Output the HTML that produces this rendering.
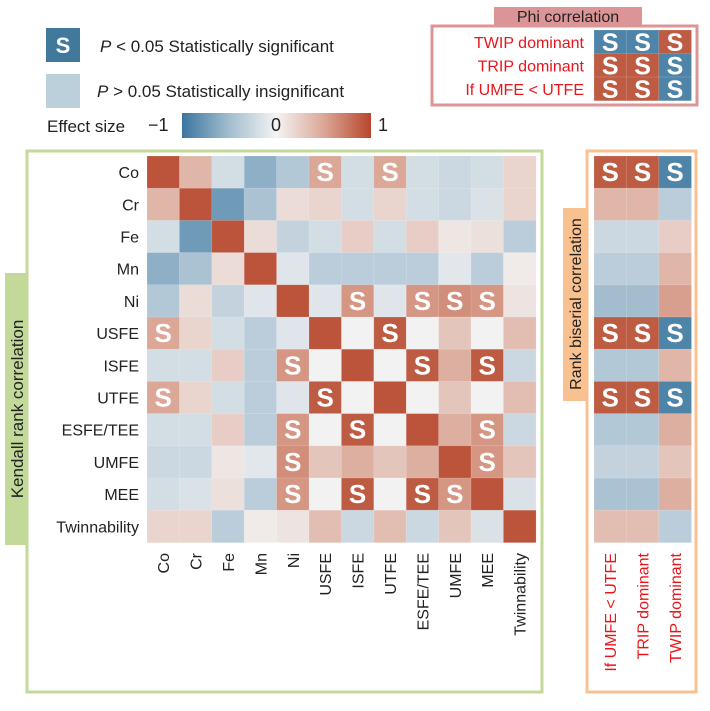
<!DOCTYPE html>
<html><head><meta charset="utf-8">
<style>
html,body{margin:0;padding:0;background:#fff;}
body{width:710px;height:706px;overflow:hidden;font-family:"Liberation Sans",Arial,sans-serif;}
svg text{font-family:"Liberation Sans",Arial,sans-serif;}
</style></head>
<body>
<svg id="chart" width="710" height="706" xmlns="http://www.w3.org/2000/svg">
<defs>
<linearGradient id="cbar" x1="0" x2="1" y1="0" y2="0">
<stop offset="0" stop-color="#3a76a0"/><stop offset="0.25" stop-color="#a3bdcf"/>
<stop offset="0.5" stop-color="#f4f4f4"/><stop offset="0.75" stop-color="#dba797"/>
<stop offset="1" stop-color="#b8472c"/></linearGradient>
</defs>
<g>
<rect x="46" y="28" width="34" height="34" fill="#41799d"/>
<text x="63" y="53" text-anchor="middle" font-size="22" font-weight="bold" fill="#fff">S</text>
<text x="100" y="52" font-size="17" fill="#222"><tspan font-style="italic">P</tspan> &lt; 0.05 Statistically significant</text>
<rect x="46" y="74" width="34" height="34" fill="#bcd0dc"/>
<text x="97" y="97" font-size="17" fill="#222"><tspan font-style="italic">P</tspan> &gt; 0.05 Statistically insignificant</text>
<text x="47" y="132" font-size="17" fill="#222">Effect size</text>
<text x="148" y="131" font-size="18" fill="#222">−1</text>
<rect x="182" y="113" width="189" height="25" fill="url(#cbar)"/>
<text x="276" y="131" font-size="18" text-anchor="middle" fill="#222">0</text>
<text x="378" y="131" font-size="18" fill="#222">1</text>
</g>
<rect x="27" y="151" width="515" height="541" fill="none" stroke="#c3d99a" stroke-width="3"/>
<rect x="5" y="273" width="23" height="272" fill="#c3d99a"/>
<text transform="translate(23,409) rotate(-90)" text-anchor="middle" font-size="17" fill="#222">Kendall rank correlation</text>
<rect x="587" y="151" width="109" height="541" fill="none" stroke="#f8c18f" stroke-width="3"/>
<rect x="563" y="208" width="24" height="193" fill="#f8c18f"/>
<text transform="translate(581,304) rotate(-90)" text-anchor="middle" font-size="16" fill="#222">Rank biserial correlation</text>
<rect x="432" y="26" width="265" height="79" fill="none" stroke="#dc9597" stroke-width="3"/>
<rect x="494" y="7" width="148" height="19" fill="#dc9597"/>
<text x="568" y="22" text-anchor="middle" font-size="16" fill="#222">Phi correlation</text>
<g id="cells"></g>
</svg>
<script>
const labels = ["Co","Cr","Fe","Mn","Ni","USFE","ISFE","UTFE","ESFE/TEE","UMFE","MEE","Twinnability"];
const kendall = [
[1,.4,-.2,-.6,-.4,.5,-.2,.5,-.2,-.25,-.2,.2],
[.4,1,-.75,-.45,.15,.2,-.2,.2,-.2,-.25,-.15,.2],
[-.2,-.75,1,.15,-.3,-.2,.25,-.2,.25,.08,.12,-.35],
[-.6,-.45,.15,1,-.12,-.35,-.35,-.35,-.35,-.1,-.35,.05],
[-.4,.15,-.3,-.12,1,-.12,.6,-.12,.6,.65,.6,.1],
[.5,.2,-.2,-.35,-.12,1,0,.95,0,.3,0,.35],
[-.2,-.2,.25,-.35,.6,0,1,0,.95,.45,.95,-.25],
[.5,.2,-.2,-.35,-.12,.95,0,1,0,.3,0,.35],
[-.2,-.2,.25,-.35,.6,0,.95,0,1,.45,.6,-.25],
[-.25,-.25,.08,-.1,.65,.3,.45,.3,.45,1,.6,.3],
[-.2,-.15,.12,-.35,.6,0,.95,0,.95,.6,1,-.15],
[.2,.2,-.35,.05,.1,.35,-.25,.35,-.25,.3,-.15,1]];
const kendallSig = [
[0,0,0,0,0,1,0,1,0,0,0,0],[0,0,0,0,0,0,0,0,0,0,0,0],[0,0,0,0,0,0,0,0,0,0,0,0],[0,0,0,0,0,0,0,0,0,0,0,0],
[0,0,0,0,0,0,1,0,1,1,1,0],[1,0,0,0,0,0,0,1,0,0,0,0],[0,0,0,0,1,0,0,0,1,0,1,0],[1,0,0,0,0,1,0,0,0,0,0,0],
[0,0,0,0,1,0,1,0,0,0,1,0],[0,0,0,0,1,0,0,0,0,0,1,0],[0,0,0,0,1,0,1,0,1,1,0,0],[0,0,0,0,0,0,0,0,0,0,0,0]];
const outcomeLabels = ["If UMFE < UTFE","TRIP dominant","TWIP dominant"];
const biserial = [
[.95,.95,-.9],[.4,.4,-.35],[-.25,-.25,.25],[-.35,-.35,.4],[-.5,-.5,.55],[.95,.95,-.9],
[-.4,-.4,.4],[.95,.95,-.9],[-.4,-.4,.45],[-.3,-.3,.3],[-.45,-.45,.45],[.35,.35,-.35]];
const biserialSig = [[1,1,1],[0,0,0],[0,0,0],[0,0,0],[0,0,0],[1,1,1],[0,0,0],[1,1,1],[0,0,0],[0,0,0],[0,0,0],[0,0,0]];
const phiRows = ["TWIP dominant","TRIP dominant","If UMFE < UTFE"];
const phi = [[-.9,-.9,.95],[.95,.95,-.9],[.95,.95,-.9]];
const phiSig = [[1,1,1],[1,1,1],[1,1,1]];

const stops=[[-1,[58,118,160]],[-.5,[163,189,207]],[0,[242,242,242]],[.5,[219,167,151]],[1,[187,84,58]]];
function color(v){
  for(let i=0;i<stops.length-1;i++){const [a,ca]=stops[i],[b,cb]=stops[i+1];
    if(v<=b){const t=(v-a)/(b-a);return 'rgb('+ca.map((c,k)=>Math.round(c+(cb[k]-c)*t)).join(',')+')';}}
  return 'rgb(187,84,58)';
}
const NS='http://www.w3.org/2000/svg';
const g=document.getElementById('cells');
function mk(tag,attrs){const e=document.createElementNS(NS,tag);for(const k in attrs)e.setAttribute(k,attrs[k]);g.appendChild(e);return e;}
function drawGrid(vals,sig,x0,y0,cw,ch,name,fs,dy){
  vals.forEach((row,i)=>row.forEach((v,j)=>{
    const r=mk('rect',{x:x0+j*cw,y:y0+i*ch,width:cw+0.3,height:ch+0.3,fill:color(v),stroke:'rgba(255,255,255,0.25)','stroke-width':0.6});
    
    
    if(sig[i][j]){const t=mk('text',{x:x0+(j+.5)*cw,y:y0+(i+.5)*ch+dy,'text-anchor':'middle','font-size':fs,'font-weight':'bold',fill:'#fff'});t.textContent='S';
      
      }
  }));
}
const kx=147,ky=156,kw=32.4,kh=32.2;
drawGrid(kendall,kendallSig,kx,ky,kw,kh,'kendall',26,9);
labels.forEach((l,i)=>{
  const t=mk('text',{x:139,y:ky+(i+.5)*kh+6,'text-anchor':'end','font-size':16,fill:'#222'});t.textContent=l;
  
  
  const c=mk('text',{transform:'translate('+(kx+(i+.5)*kw+6)+',553) rotate(-90)','text-anchor':'end','font-size':16,fill:'#222'});c.textContent=l;
  
  
});
const bx=594,bw=32.4;
drawGrid(biserial,biserialSig,bx,ky,bw,kh,'biserial',26,9);
outcomeLabels.forEach((l,j)=>{
  const c=mk('text',{transform:'translate('+(bx+(j+.5)*bw+6)+',553) rotate(-90)','text-anchor':'end','font-size':16,fill:'#e8161b'});c.textContent=l;
  
  
});
const py=30,ph=23.5;
drawGrid(phi,phiSig,bx,py,bw,ph,'phi',25,9);
phiRows.forEach((l,i)=>{
  const t=mk('text',{x:584,y:py+(i+.5)*ph+6,'text-anchor':'end','font-size':16,fill:'#e8161b'});t.textContent=l;
  
  
});
</script>
</body></html>
